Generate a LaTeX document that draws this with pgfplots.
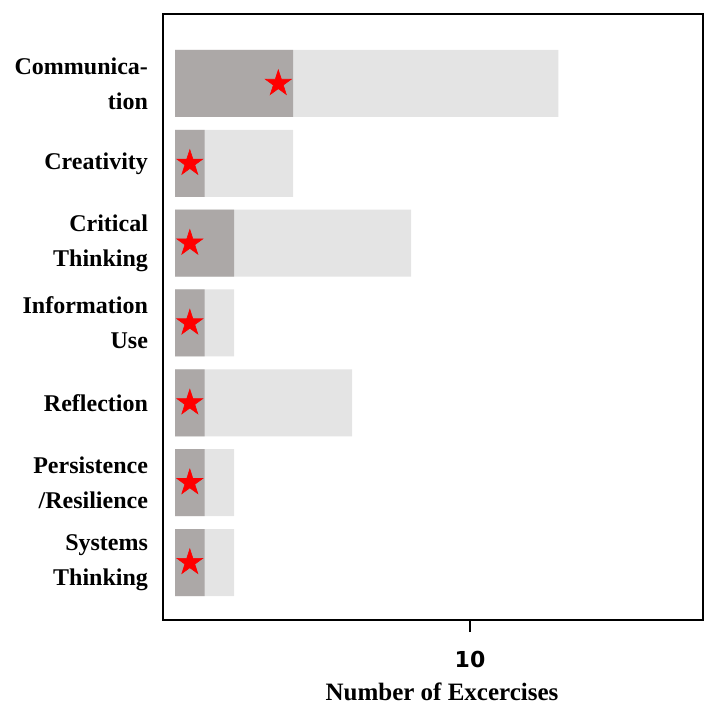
\documentclass[border=0pt]{standalone}
\usepackage{fontspec}
\setmainfont{Liberation Serif}
\newfontfamily\numfont{DejaVu Sans}
\usepackage{pgfplots}
\usepackage{pgfplotstable}
\pgfplotsset{compat=1.18}

\definecolor{lightbar}{HTML}{E4E4E4}
\definecolor{darkbar}{HTML}{ACA8A7}
\definecolor{starred}{HTML}{FF0000}

% filled five-pointed star
\pgfdeclareplotmark{fstar}{%
  \pgfpathmoveto{\pgfpointpolar{90}{\pgfplotmarksize}}%
  \pgfpathlineto{\pgfpointpolar{126}{0.382\pgfplotmarksize}}%
  \pgfpathlineto{\pgfpointpolar{162}{\pgfplotmarksize}}%
  \pgfpathlineto{\pgfpointpolar{198}{0.382\pgfplotmarksize}}%
  \pgfpathlineto{\pgfpointpolar{234}{\pgfplotmarksize}}%
  \pgfpathlineto{\pgfpointpolar{270}{0.382\pgfplotmarksize}}%
  \pgfpathlineto{\pgfpointpolar{306}{\pgfplotmarksize}}%
  \pgfpathlineto{\pgfpointpolar{342}{0.382\pgfplotmarksize}}%
  \pgfpathlineto{\pgfpointpolar{18}{\pgfplotmarksize}}%
  \pgfpathlineto{\pgfpointpolar{54}{0.382\pgfplotmarksize}}%
  \pgfpathclose
  \pgfusepathqfillstroke}

% y = row position (0 at bottom), total / subset exercises, star position
\pgfplotstableread{
y total sub star
6 13 4 3.5
5 4  1 0.5
4 8  2 0.5
3 2  1 0.5
2 6  1 0.5
1 2  1 0.5
0 2  1 0.5
}\skills

\begin{document}
\begin{tikzpicture}
\begin{axis}[
    scale only axis,
    width=270pt, height=303pt,
    xmin=-0.41, xmax=17.9,
    ymin=-0.72, ymax=6.87,
    axis line style={line width=1.3pt},
    xtick={10},
    xtick pos=bottom,
    tick align=outside,
    major tick length=6pt,
    xtick style={black, line width=0.6pt},
    ytick={0,...,6},
    yticklabels={{Systems\\Thinking},{Persistence\\/Resilience},Reflection,{Information\\Use},{Critical\\Thinking},Creativity,{Communica-\\tion}},
    ytick style={draw=none},
    yticklabel style={align=right, font=\fontsize{12}{17.5}\selectfont\bfseries, xshift=2pt},
    /pgf/number format/assume math mode=true,
    xticklabel style={font=\fontsize{11}{13}\selectfont\numfont\bfseries, yshift=-6pt},
    xlabel={Number of Excercises},
    xlabel style={font=\fontsize{12.5}{15}\selectfont\bfseries, at={(axis description cs:0.5,0)}, anchor=north, yshift=-28pt, xshift=4.5pt},
]
\addplot[xbar, bar width=33.5pt, bar shift=0pt, fill=lightbar, draw=none] table[x=total, y=y] {\skills};
\addplot[xbar, bar width=33.5pt, bar shift=0pt, fill=darkbar, draw=none] table[x=sub, y=y] {\skills};
\addplot[only marks, mark=fstar, mark size=6.8pt, color=starred, line width=0.3pt] table[x=star, y=y] {\skills};
\end{axis}
\pgfresetboundingbox
\path[use as bounding box] ([xshift=-81.5pt, yshift=-43pt]current axis.south west) rectangle ([xshift=5pt, yshift=7pt]current axis.north east);
\end{tikzpicture}
\end{document}
